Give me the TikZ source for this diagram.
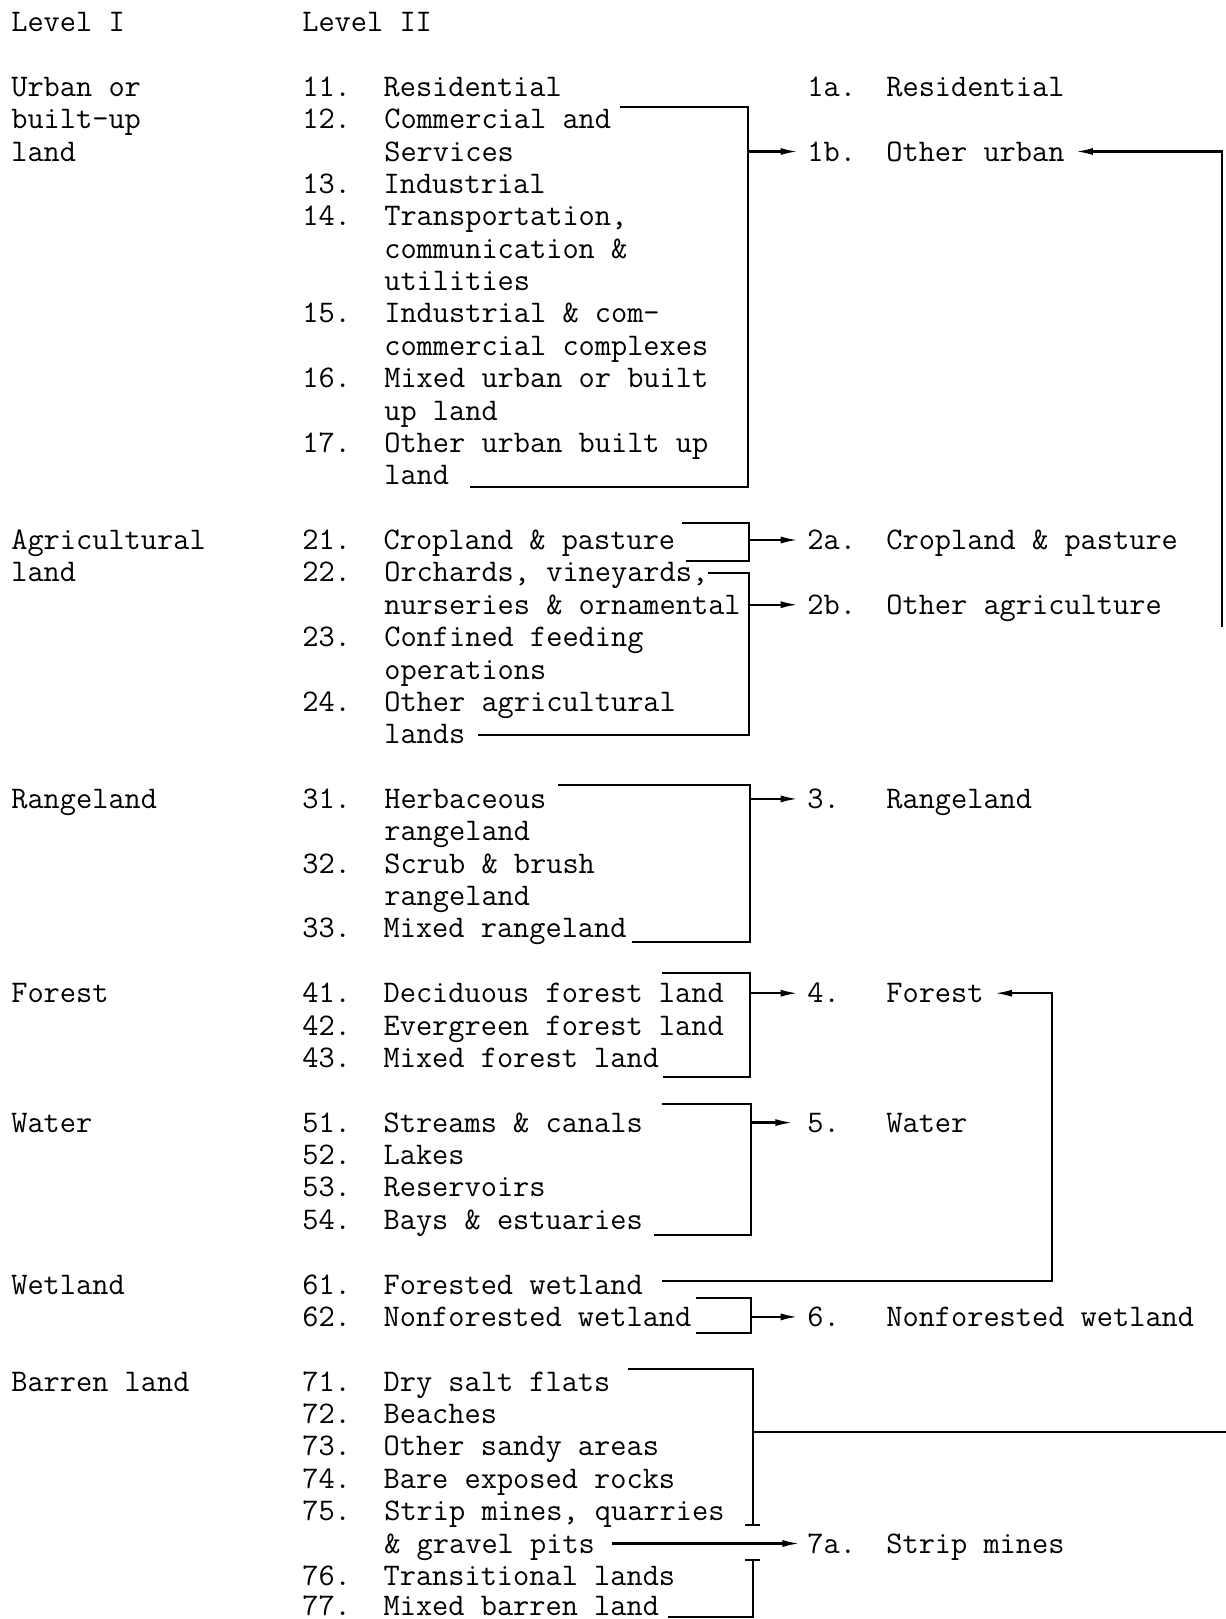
\documentclass[tikz,border=0pt]{standalone}
\usepackage{fontspec}
\usetikzlibrary{arrows.meta,positioning}
\newcommand{\typew}{\ttfamily\fontsize{17.9pt}{18.42pt}\selectfont}

\begin{document}
\begin{tikzpicture}[x=0.02cm,y=-0.02cm]
  \tikzstyle{txt}=[anchor=base west,inner sep=0pt,align=left,font=\typew]
  \tikzstyle{itm}=[txt,base right=0.64cm of #1]
  \tikzstyle{br}=[line width=1.3pt]
  \tikzstyle{f}=[-{Latex[length=10pt,width=4pt]},line width=1.3pt]

  \fill[white] (0,0) rectangle (1225,1619);
  \useasboundingbox (0,0) rectangle (1225,1619);

  % headings
  \node[txt] (lvI)  at (11,31.6)  {Level I};
  \node[txt] (lvII) at (302,31.6) {Level II};

  % level I (multi-line nodes sit on their last line)
  \node[txt] (urb) at (11,161.0)  {Urban or\\built-up\\land};
  \node[txt] (agr) at (11,581.9)  {Agricultural\\land};
  \node[txt] (rng) at (11,808.4)  {Rangeland};
  \node[txt] (for) at (11,1002.7) {Forest};
  \node[txt] (wat) at (11,1132.1) {Water};
  \node[txt] (wet) at (11,1294.0) {Wetland};
  \node[txt] (bar) at (11,1391.1) {Barren land};

  % level II
  \node[txt] (n11) at (302,96.3)  {11.};
  \node[itm=n11] (i11) {Residential};
  \node[txt] (n12) at (302,128.7) {12.};
  \node[txt] (i12) at (384,161.1) {Commercial and\\Services};
  \node[txt] (n13) at (302,193.4) {13.};
  \node[itm=n13] (i13) {Industrial};
  \node[txt] (n14) at (302,225.8) {14.};
  \node[txt] (i14) at (384,290.5) {Transportation,\\communication \&\\utilities};
  \node[txt] (n15) at (302,322.9) {15.};
  \node[txt] (i15) at (384,355.3) {Industrial \& com-\\commercial complexes};
  \node[txt] (n16) at (302,387.6) {16.};
  \node[txt] (i16) at (384,420.0) {Mixed urban or built\\up land};
  \node[txt] (n17) at (302,452.4) {17.};
  \node[txt] (i17) at (384,484.8) {Other urban built up\\land};

  \node[txt] (n21) at (302,549.5) {21.};
  \node[itm=n21] (i21) {Cropland \& pasture};
  \node[txt] (n22) at (302,581.9) {22.};
  \node[txt] (i22) at (384,614.3) {Orchards, vineyards,\\nurseries \& ornamental};
  \node[txt] (n23) at (302,646.6) {23.};
  \node[txt] (i23) at (384,679.0) {Confined feeding\\operations};
  \node[txt] (n24) at (302,711.4) {24.};
  \node[txt] (i24) at (384,743.8) {Other agricultural\\lands};

  \node[txt] (n31) at (302,808.4) {31.};
  \node[txt] (i31) at (384,840.8) {Herbaceous\\rangeland};
  \node[txt] (n32) at (302,873.2) {32.};
  \node[txt] (i32) at (384,905.6) {Scrub \& brush\\rangeland};
  \node[txt] (n33) at (302,937.9) {33.};
  \node[itm=n33] (i33) {Mixed rangeland};

  \node[txt] (n41) at (302,1002.7) {41.};
  \node[itm=n41] (i41) {Deciduous forest land};
  \node[txt] (n42) at (302,1035.0) {42.};
  \node[itm=n42] (i42) {Evergreen forest land};
  \node[txt] (n43) at (302,1067.4) {43.};
  \node[itm=n43] (i43) {Mixed forest land};

  \node[txt] (n51) at (302,1132.1) {51.};
  \node[itm=n51] (i51) {Streams \& canals};
  \node[txt] (n52) at (302,1164.5) {52.};
  \node[itm=n52] (i52) {Lakes};
  \node[txt] (n53) at (302,1196.9) {53.};
  \node[itm=n53] (i53) {Reservoirs};
  \node[txt] (n54) at (302,1229.3) {54.};
  \node[itm=n54] (i54) {Bays \& estuaries};

  \node[txt] (n61) at (302,1294.0) {61.};
  \node[itm=n61] (i61) {Forested wetland};
  \node[txt] (n62) at (302,1326.4) {62.};
  \node[itm=n62] (i62) {Nonforested wetland};

  \node[txt] (n71) at (302,1391.1) {71.};
  \node[itm=n71] (i71) {Dry salt flats};
  \node[txt] (n72) at (302,1423.5) {72.};
  \node[itm=n72] (i72) {Beaches};
  \node[txt] (n73) at (302,1455.9) {73.};
  \node[itm=n73] (i73) {Other sandy areas};
  \node[txt] (n74) at (302,1488.2) {74.};
  \node[itm=n74] (i74) {Bare exposed rocks};
  \node[txt] (n75) at (302,1520.6) {75.};
  \node[txt] (i75) at (384,1553.0) {Strip mines, quarries\\\& gravel pits};
  \node[txt] (n76) at (302,1585.3) {76.};
  \node[itm=n76] (i76) {Transitional lands};
  \node[txt] (n77) at (302,1615.0) {77.};
  \node[itm=n77] (i77) {Mixed barren land};

  % merged classes
  \node[txt] (c1a) at (807,96.3)   {1a.};
  \node[txt] (t1a) at (886,96.3)   {Residential};
  \node[txt] (c1b) at (807,161.0)  {1b.};
  \node[txt] (t1b) at (886,161.0)  {Other urban};
  \node[txt] (c2a) at (807,549.5)  {2a.};
  \node[txt] (t2a) at (886,549.5)  {Cropland \& pasture};
  \node[txt] (c2b) at (807,614.2)  {2b.};
  \node[txt] (t2b) at (886,614.2)  {Other agriculture};
  \node[txt] (c3)  at (807,808.4)  {3.};
  \node[txt] (t3)  at (886,808.4)  {Rangeland};
  \node[txt] (c4)  at (807,1002.7) {4.};
  \node[txt] (t4)  at (886,1002.7) {Forest};
  \node[txt] (c5)  at (807,1132.1) {5.};
  \node[txt] (t5)  at (886,1132.1) {Water};
  \node[txt] (c6)  at (807,1326.4) {6.};
  \node[txt] (t6)  at (886,1326.4) {Nonforested wetland};
  \node[txt] (c7a) at (807,1553.0) {7a.};
  \node[txt] (t7a) at (886,1553.0) {Strip mines};

  % brackets
  \draw[br] (620,107) -- (748,107) -- (748,487) -- (470,487);
  \draw[br] (682,523) -- (749,523) -- (749,561) -- (686,561);
  \draw[br] (708,573) -- (749,573) -- (749,735) -- (478,735);
  \draw[br] (558,785) -- (750,785) -- (750,942) -- (632,942);
  \draw[br] (662,973) -- (750,973) -- (750,1077) -- (663,1077);
  \draw[br] (662,1104) -- (751,1104) -- (751,1235) -- (654,1235);
  \draw[br] (696,1298) -- (751,1298) -- (751,1333) -- (696,1333);
  \draw[br] (628,1369) -- (753,1369) -- (753,1525);
  \draw[br] (745,1525) -- (760,1525);
  \draw[br] (745,1560) -- (760,1560);
  \draw[br] (753,1560) -- (753,1617) -- (668,1617);

  \coordinate (b1) at (748,151.5);
  \coordinate (b2a) at (749,540);
  \coordinate (b2b) at (749,604.7);
  \coordinate (b3) at (750,798.9);
  \coordinate (b4) at (750,993.2);
  \coordinate (b5) at (751,1122.6);
  \coordinate (b6) at (751,1316.9);
  \coordinate (b7) at (753,1431.7);
  \coordinate (b7a) at (612,1543.5);
  \coordinate (wl) at (662,1281);
  \coordinate (ur) at (1222,627);
  \coordinate (edge) at (1230,1431.7);

  \draw[f,shorten >=5pt] (b1) -- (b1 -| c1b.west);
  \draw[f,shorten >=5pt] (b2a) -- (b2a -| c2a.west);
  \draw[f,shorten >=5pt] (b2b) -- (b2b -| c2b.west);
  \draw[f,shorten >=5pt] (b3) -- (b3 -| c3.west);
  \draw[f,shorten >=5pt] (b4) -- (b4 -| c4.west);
  \draw[f,shorten >=8pt] (b5) -- (b5 -| c5.west);
  \draw[f,shorten >=5pt] (b6) -- (b6 -| c6.west);
  \draw[f,shorten >=4pt] (b7a) -- (b7a -| c7a.west);
  \draw[f,shorten >=6pt] (wl) -| (1052,993.2) -- (t4.east |- b4);
  \draw[f,shorten >=6pt] (ur) |- (t1b.east |- b1);
  \draw[br] (b7) -- (edge);
\end{tikzpicture}
\end{document}
